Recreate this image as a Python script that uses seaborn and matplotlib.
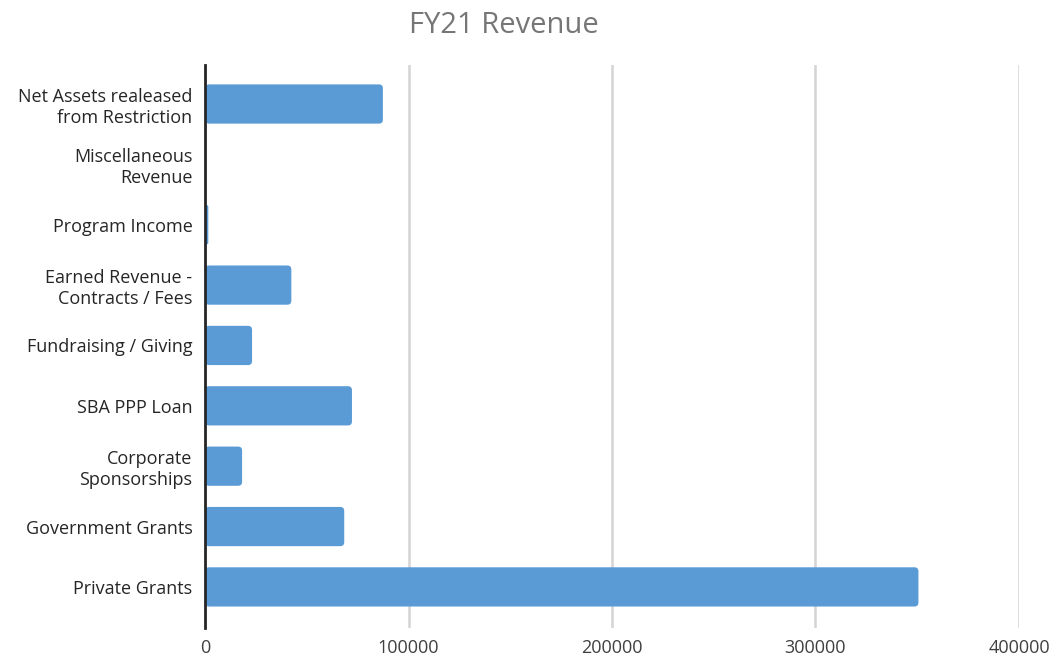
import pandas as pd
import numpy as np
import seaborn as sns
import matplotlib.pyplot as plt
from matplotlib.patches import FancyBboxPatch

categories = ["Net Assets realeased\nfrom Restriction", "Miscellaneous\nRevenue",
              "Program Income", "Earned Revenue -\nContracts / Fees",
              "Fundraising / Giving", "SBA PPP Loan", "Corporate\nSponsorships",
              "Government Grants", "Private Grants"]
revenue = [87400, 0, 1600, 42400, 23100, 72200, 18200, 68400, 350600]
xticks = [0, 100000, 200000, 300000, 400000]

df = pd.DataFrame({"Category": categories, "Revenue": revenue})

sns.set_style("white")
plt.rcParams["font.family"] = ["Open Sans", "DejaVu Sans"]

fig = plt.figure(figsize=(10.57, 6.61), dpi=100)
ax = fig.add_axes([0.194, 0.050, 0.770, 0.852])

sns.barplot(data=df, x="Revenue", y="Category", order=categories, color="#5B9BD5",
            saturation=1, width=0.65, orient="h", ax=ax)

ax.set_xlim(0, 400000)
ax.set_ylim(8.68, -0.65)

# swap the plain bars for ones with slightly rounded corners (like the original)
xpp = 400000 / 814.0
ypp = 9.33 / 563.0
for p in list(ax.patches):
    x0, y0 = p.get_x(), p.get_y()
    w, h = p.get_width(), p.get_height()
    fc = p.get_facecolor()
    p.remove()
    if w <= 0:
        continue
    r = min(4 * xpp, w / 2)
    ax.add_patch(FancyBboxPatch((x0, y0), w, h,
                                boxstyle=f"round,pad=0,rounding_size={r}",
                                mutation_aspect=ypp / xpp, fc=fc, ec="none", zorder=2))

ax.set_xticks(xticks)
ax.set_xticklabels([str(t) for t in xticks], fontsize=13, color="#404040")
ax.tick_params(axis="y", labelsize=13, colors="#262626", length=0, pad=9)
ax.tick_params(axis="x", length=0, pad=8)
for lab in ax.get_yticklabels():
    lab.set_multialignment("right")
ax.grid(axis="x", color="#D4D4D4", lw=1.8)
ax.set_axisbelow(True)
for s in ["top", "right", "bottom"]:
    ax.spines[s].set_visible(False)
ax.spines["left"].set_color("#262626")
ax.spines["left"].set_linewidth(2)
ax.spines["left"].set_zorder(3)
ax.set_xlabel("")
ax.set_ylabel("")
fig.text(0.477, 0.962, "FY21 Revenue", ha="center", va="center", fontsize=21, color="#767676")

fig.savefig("out.png", dpi=100)
